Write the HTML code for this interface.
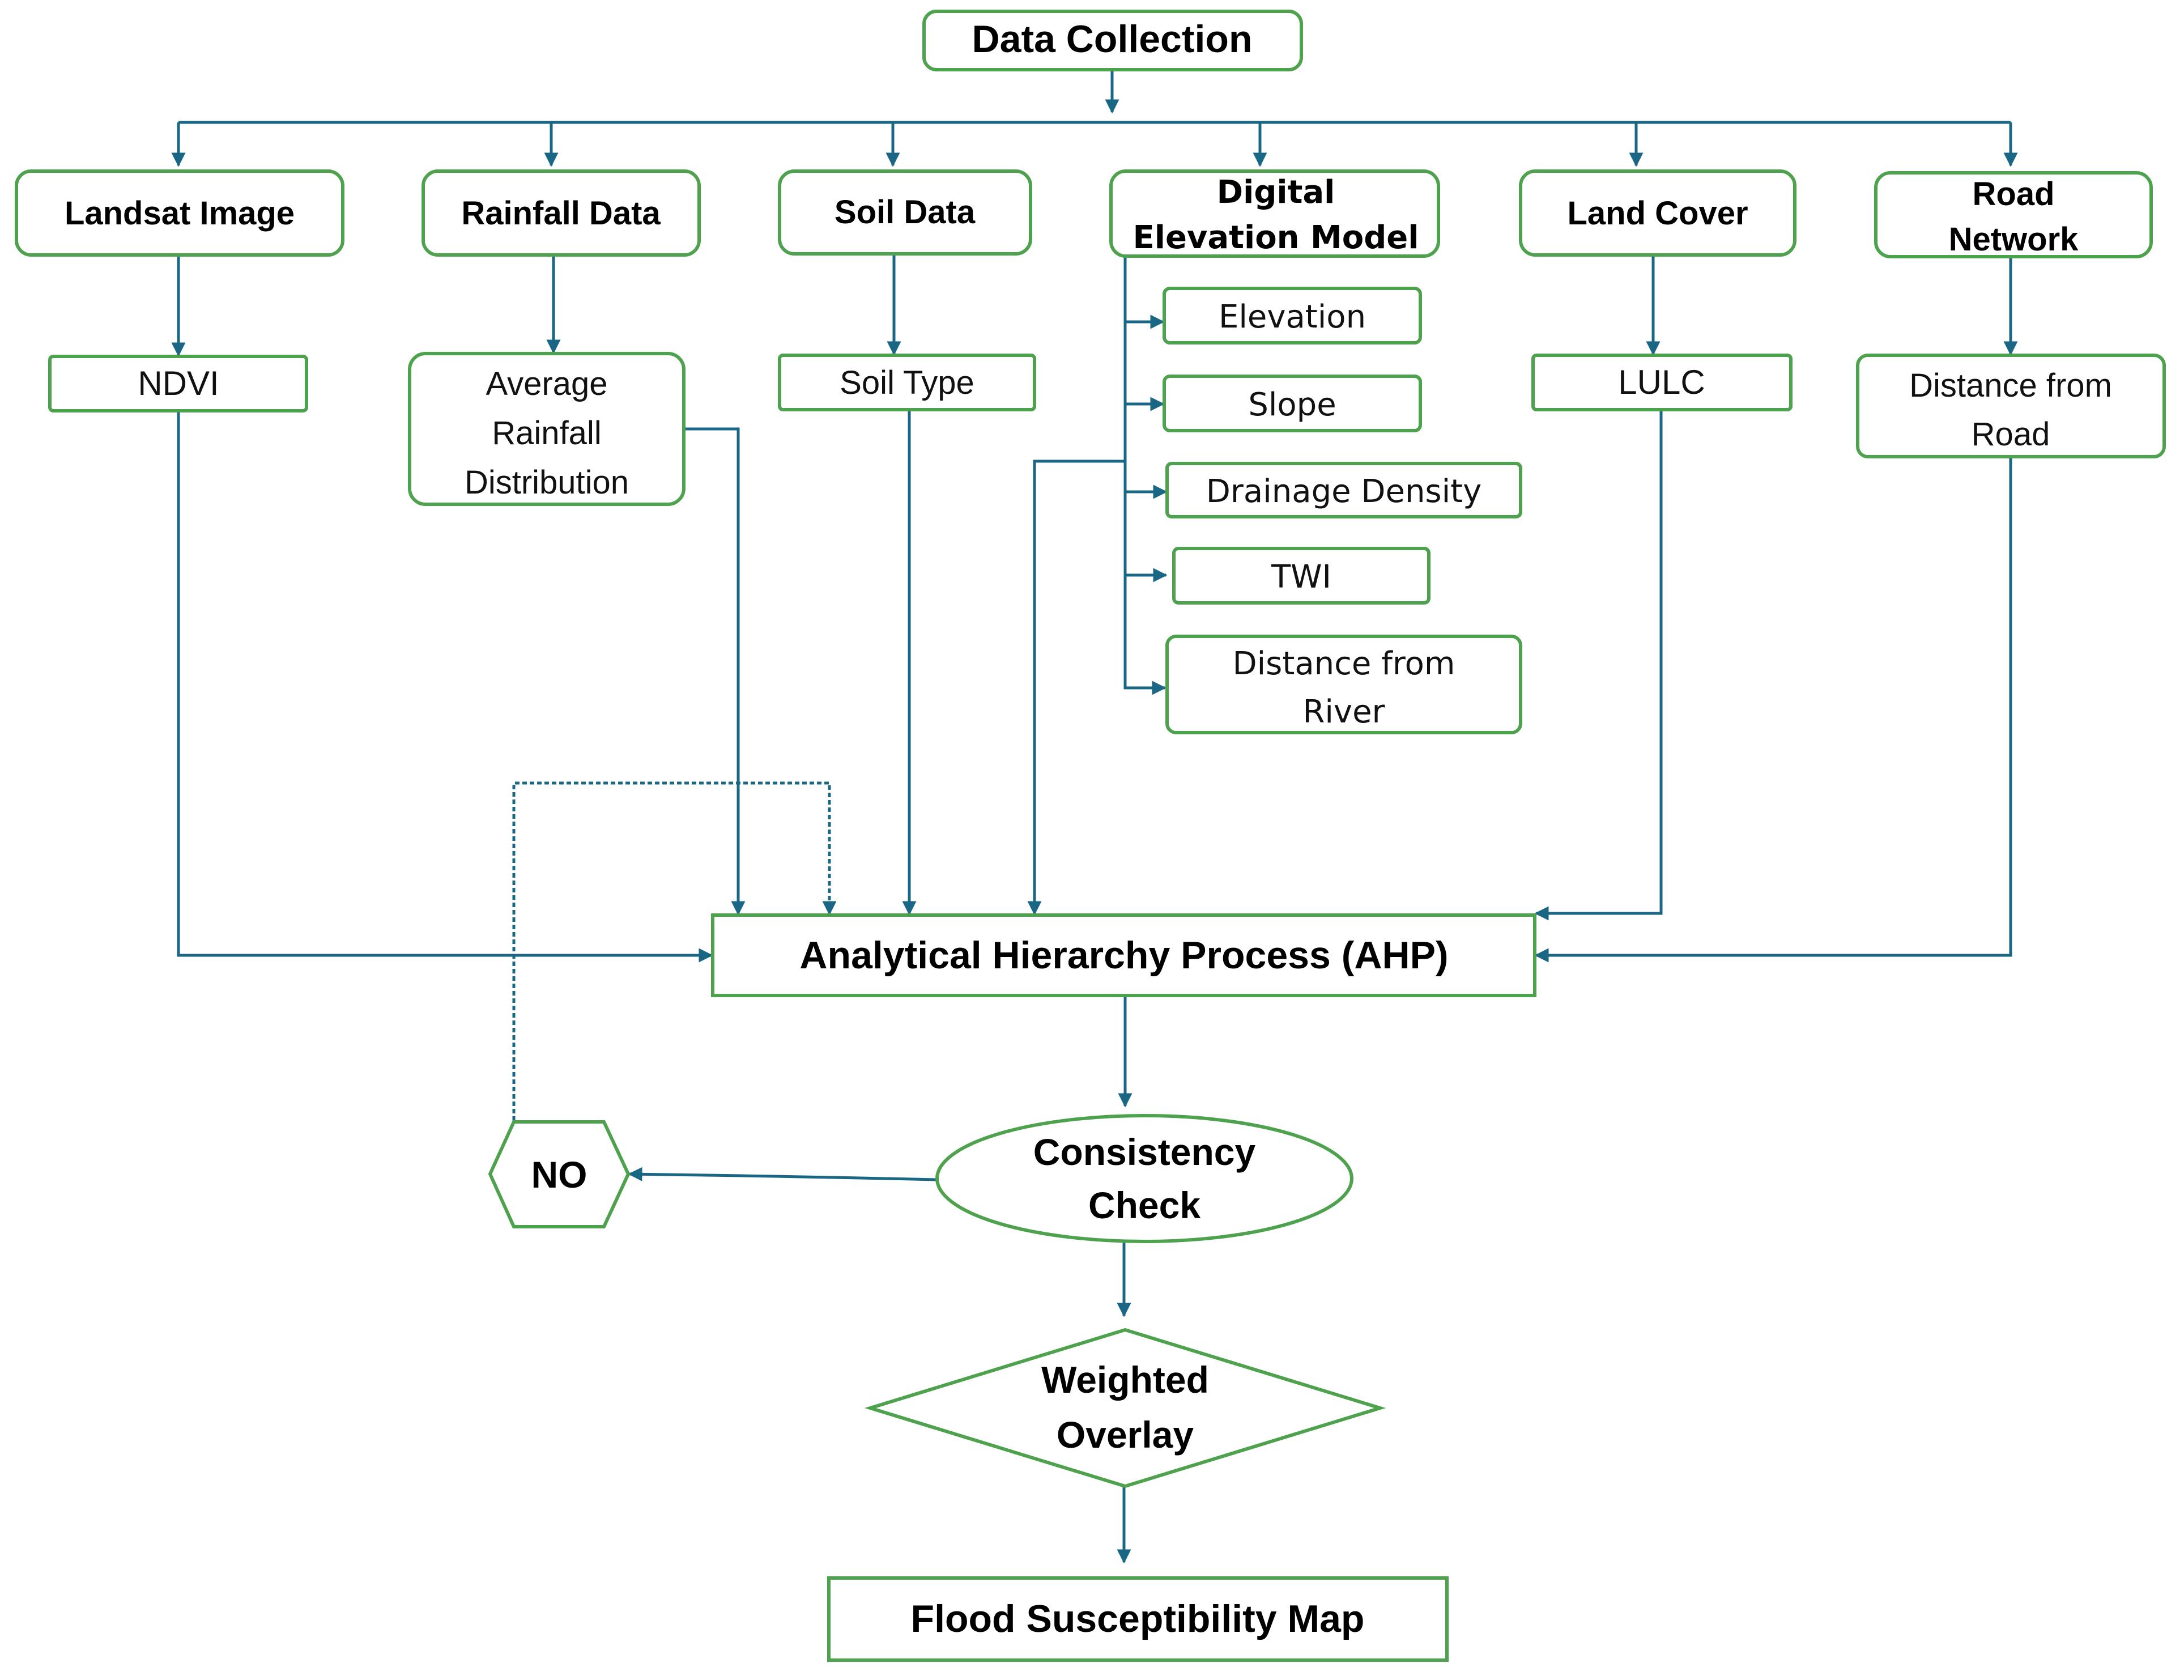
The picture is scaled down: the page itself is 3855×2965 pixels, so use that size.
<!DOCTYPE html>
<html><head><meta charset="utf-8"><style>
html,body{margin:0;padding:0;background:#fff}
svg{display:block}
.b{fill:#fff;stroke:#4ea24e;stroke-width:6}
.c{fill:none;stroke:#1a6785;stroke-width:5}
.d{fill:none;stroke:#1a6785;stroke-width:5;stroke-dasharray:8 5}
.tb{font-family:"Liberation Sans",sans-serif;font-weight:bold;fill:#000;text-anchor:middle}
.tn{font-family:"Liberation Sans",sans-serif;fill:#111;text-anchor:middle}
.tw{font-family:"DejaVu Sans",sans-serif;fill:#111;text-anchor:middle}
.tdb{font-family:"DejaVu Sans",sans-serif;font-weight:bold;fill:#000;text-anchor:middle}
</style></head><body>
<svg width="3855" height="2965" viewBox="0 0 3855 2965" xmlns="http://www.w3.org/2000/svg">
<defs>
<marker id="a" viewBox="0 0 10 10" refX="9" refY="5" markerWidth="5" markerHeight="5" orient="auto" markerUnits="strokeWidth"><path d="M0,0 L10,5 L0,10 z" fill="#1a6785"/></marker>
</defs>

<path class="c" d="M1963,123 V198" marker-end="url(#a)"/>
<path class="c" d="M315,216 H3549"/>
<path class="c" d="M315,216 V292" marker-end="url(#a)"/>
<path class="c" d="M973,216 V292" marker-end="url(#a)"/>
<path class="c" d="M1576,216 V292" marker-end="url(#a)"/>
<path class="c" d="M2224,216 V292" marker-end="url(#a)"/>
<path class="c" d="M2888,216 V292" marker-end="url(#a)"/>
<path class="c" d="M3549,216 V292" marker-end="url(#a)"/>

<path class="c" d="M315,450 V627" marker-end="url(#a)"/>
<path class="c" d="M977,450 V622" marker-end="url(#a)"/>
<path class="c" d="M1578,450 V625" marker-end="url(#a)"/>
<path class="c" d="M2918,450 V625" marker-end="url(#a)"/>
<path class="c" d="M3549,453 V625" marker-end="url(#a)"/>

<path class="c" d="M1986,452 V1214 H2056" marker-end="url(#a)"/>
<path class="c" d="M1986,568 H2053" marker-end="url(#a)"/>
<path class="c" d="M1986,713 H2053" marker-end="url(#a)"/>
<path class="c" d="M1986,868 H2058" marker-end="url(#a)"/>
<path class="c" d="M1986,1015 H2058" marker-end="url(#a)"/>
<path class="c" d="M1986,814 H1826 V1613" marker-end="url(#a)"/>

<path class="c" d="M1207,757 H1303 V1613" marker-end="url(#a)"/>
<path class="c" d="M1605,723 V1613" marker-end="url(#a)"/>
<path class="c" d="M315,725 V1686 H1256" marker-end="url(#a)"/>
<path class="c" d="M2932,723 V1612 H2711" marker-end="url(#a)"/>
<path class="c" d="M3549,806 V1686 H2711" marker-end="url(#a)"/>
<path class="d" d="M907,1978 V1382 H1464 V1613" marker-end="url(#a)"/>

<path class="c" d="M1986,1757 V1952" marker-end="url(#a)"/>
<path class="c" d="M1654,2082 Q1400,2076 1111,2072" marker-end="url(#a)"/>
<path class="c" d="M1984,2193 V2322" marker-end="url(#a)"/>
<path class="c" d="M1984,2623 V2757" marker-end="url(#a)"/>

<rect class="b" x="1631" y="20" width="666" height="103" rx="22"/>
<text class="tb" x="1963" y="92" font-size="68">Data Collection</text>

<rect class="b" x="29" y="302" width="576" height="148" rx="26"/>
<text class="tb" x="317" y="396" font-size="58">Landsat Image</text>
<rect class="b" x="747" y="302" width="487" height="148" rx="26"/>
<text class="tb" x="990" y="396" font-size="58">Rainfall Data</text>
<rect class="b" x="1376" y="302" width="443" height="146" rx="26"/>
<text class="tb" x="1597" y="394" font-size="58">Soil Data</text>
<rect class="b" x="1961" y="302" width="578" height="150" rx="26"/>
<text class="tdb" x="2252" y="358" font-size="56">Digital</text>
<text class="tdb" x="2252" y="438" font-size="56">Elevation Model</text>
<rect class="b" x="2684" y="302" width="484" height="148" rx="26"/>
<text class="tb" x="2926" y="396" font-size="58">Land Cover</text>
<rect class="b" x="3311" y="305" width="486" height="148" rx="26"/>
<text class="tb" x="3554" y="362" font-size="58">Road</text>
<text class="tb" x="3554" y="442" font-size="58">Network</text>

<rect class="b" x="88" y="629" width="453" height="96" rx="6"/>
<text class="tn" x="315" y="697" font-size="60">NDVI</text>
<rect class="b" x="723" y="624" width="484" height="266" rx="28"/>
<text class="tn" x="965" y="697" font-size="58">Average</text>
<text class="tn" x="965" y="784" font-size="58">Rainfall</text>
<text class="tn" x="965" y="871" font-size="58">Distribution</text>
<rect class="b" x="1376" y="627" width="450" height="96" rx="6"/>
<text class="tn" x="1601" y="695" font-size="58">Soil Type</text>
<rect class="b" x="2706" y="627" width="455" height="96" rx="6"/>
<text class="tn" x="2933" y="695" font-size="60">LULC</text>
<rect class="b" x="3279" y="627" width="541" height="179" rx="18"/>
<text class="tn" x="3549" y="700" font-size="58">Distance from</text>
<text class="tn" x="3549" y="786" font-size="58">Road</text>

<rect class="b" x="2055" y="509" width="452" height="96" rx="10"/>
<text class="tw" x="2281" y="578" font-size="56">Elevation</text>
<rect class="b" x="2055" y="664" width="452" height="96" rx="10"/>
<text class="tw" x="2281" y="733" font-size="56">Slope</text>
<rect class="b" x="2060" y="818" width="624" height="94" rx="8"/>
<text class="tw" x="2372" y="886" font-size="56">Drainage Density</text>
<rect class="b" x="2072" y="968" width="450" height="96" rx="8"/>
<text class="tw" x="2297" y="1037" font-size="56">TWI</text>
<rect class="b" x="2060" y="1123" width="624" height="170" rx="16"/>
<text class="tw" x="2372" y="1190" font-size="56">Distance from</text>
<text class="tw" x="2372" y="1275" font-size="56">River</text>

<rect class="b" x="1258" y="1615" width="1451" height="142"/>
<text class="tb" x="1984" y="1709" font-size="68">Analytical Hierarchy Process (AHP)</text>

<ellipse class="b" cx="2020" cy="2080" rx="366" ry="111"/>
<text class="tb" x="2020" y="2056" font-size="66">Consistency</text>
<text class="tb" x="2020" y="2150" font-size="66">Check</text>

<polygon class="b" points="865,2072 907,1980 1066,1980 1109,2072 1066,2165 907,2165"/>
<text class="tb" x="987" y="2096" font-size="66">NO</text>

<polygon class="b" points="1536,2485 1986,2347 2436,2485 1986,2623"/>
<text class="tb" x="1986" y="2458" font-size="66">Weighted</text>
<text class="tb" x="1986" y="2555" font-size="66">Overlay</text>

<rect class="b" x="1463" y="2785" width="1091" height="145"/>
<text class="tb" x="2008" y="2880" font-size="68">Flood Susceptibility Map</text>
</svg>
</body></html>
